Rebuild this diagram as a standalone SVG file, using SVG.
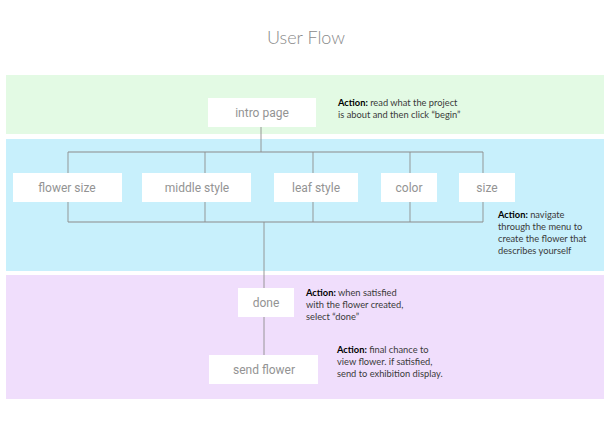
<svg xmlns="http://www.w3.org/2000/svg" width="611" height="435" viewBox="0 0 611 435">
  <style>
    .title { font-family: Lato, "Open Sans", sans-serif; font-weight: 300; font-size: 18px; fill: #8a8a8a; }
    .box { fill: #ffffff; }
    .lbl { font-family: Roboto, "Liberation Sans", sans-serif; font-size: 12px; fill: #939393; text-anchor: middle; }
    .act { font-family: Lato, "Liberation Sans", sans-serif; font-size: 9.3px; fill: #3a3a3a; }
    .act .b { font-weight: bold; fill: #000; }
    .conn { fill: none; stroke: #8f8f8f; stroke-opacity: 0.7; stroke-width: 1.3; }
  </style>
  <rect width="611" height="435" fill="#ffffff"/>
  <text class="title" x="306" y="44" text-anchor="middle">User Flow</text>

  <g id="bands">
    <rect x="6" y="75" width="598" height="59" fill="#e3fae4"/>
    <rect x="6" y="139" width="598" height="132" fill="#c8f0fc"/>
    <rect x="6" y="275" width="598" height="124" fill="#f0defc"/>
  </g>

  <g id="connectors" class="conn">
    <path d="M261 126 V152"/>
    <path d="M68 152 H483"/>
    <path d="M68 152 V222 M205 152 V222 M313 152 V222 M410 152 V222 M483 152 V222"/>
    <path d="M68 222 H483"/>
    <path d="M264 222 V288"/>
    <path d="M264 317 V355"/>
  </g>

  <g id="intro-page">
    <rect class="box" x="208" y="98" width="108" height="29"/>
    <text class="lbl" x="262" y="117">intro page</text>
  </g>
  <g id="flower-size">
    <rect class="box" x="13" y="173" width="109" height="29"/>
    <text class="lbl" x="67" y="192">flower size</text>
  </g>
  <g id="middle-style">
    <rect class="box" x="142" y="173" width="109" height="29"/>
    <text class="lbl" x="197" y="192">middle style</text>
  </g>
  <g id="leaf-style">
    <rect class="box" x="274" y="173" width="84" height="29"/>
    <text class="lbl" x="316" y="192">leaf style</text>
  </g>
  <g id="color">
    <rect class="box" x="381" y="173" width="56" height="29"/>
    <text class="lbl" x="409" y="192">color</text>
  </g>
  <g id="size">
    <rect class="box" x="459" y="173" width="56" height="29"/>
    <text class="lbl" x="487" y="192">size</text>
  </g>
  <g id="done">
    <rect class="box" x="238" y="288" width="56" height="29"/>
    <text class="lbl" x="266" y="307">done</text>
  </g>
  <g id="send-flower">
    <rect class="box" x="209" y="355" width="109" height="29"/>
    <text class="lbl" x="264" y="374">send flower</text>
  </g>

  <g id="action-intro">
    <text class="act" x="338" y="106"><tspan class="b">Action:</tspan> read what the project</text>
    <text class="act" x="338" y="118">is about and then click “begin”</text>
  </g>
  <g id="action-menu">
    <text class="act" x="498" y="218"><tspan class="b">Action:</tspan> navigate</text>
    <text class="act" x="498" y="230">through the menu to</text>
    <text class="act" x="498" y="242">create the flower that</text>
    <text class="act" x="498" y="254">describes yourself</text>
  </g>
  <g id="action-done">
    <text class="act" x="306" y="296"><tspan class="b">Action:</tspan> when satisfied</text>
    <text class="act" x="306" y="308">with the flower created,</text>
    <text class="act" x="306" y="320">select “done”</text>
  </g>
  <g id="action-send">
    <text class="act" x="337" y="353"><tspan class="b">Action:</tspan> final chance to</text>
    <text class="act" x="337" y="365">view flower. if satisfied,</text>
    <text class="act" x="337" y="377">send to exhibition display.</text>
  </g>
</svg>
